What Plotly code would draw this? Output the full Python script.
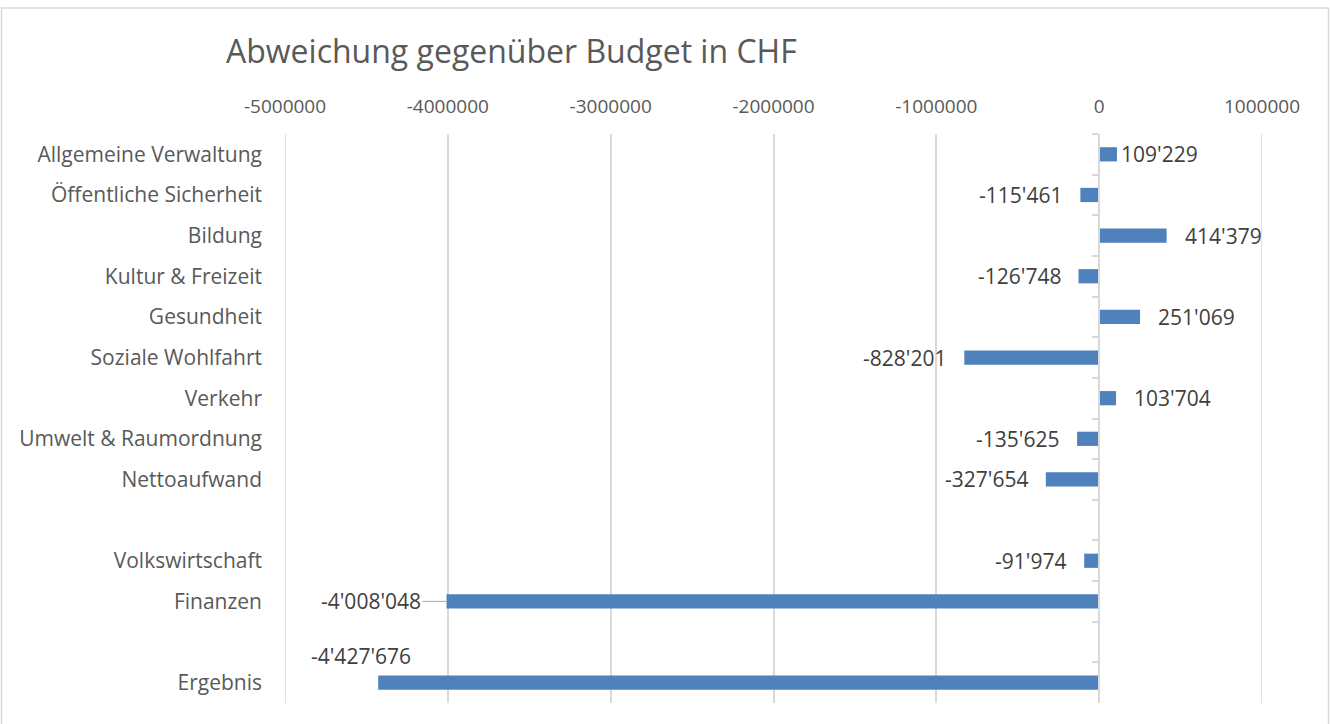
import plotly.graph_objects as go

# ---- data ----
categories = [
    "Allgemeine Verwaltung", "Öffentliche Sicherheit", "Bildung", "Kultur & Freizeit",
    "Gesundheit", "Soziale Wohlfahrt", "Verkehr", "Umwelt & Raumordnung", "Nettoaufwand",
    " ", "Volkswirtschaft", "Finanzen", "  ", "Ergebnis",
]
values = [
    109229, -115461, 414379, -126748, 251069, -828201, 103704, -135625, -327654,
    None, -91974, -4008048, None, -4427676,
]
x_ticks = [-5000000, -4000000, -3000000, -2000000, -1000000, 0, 1000000]
x_tick_labels = [str(v) for v in x_ticks]
title_text = "Abweichung gegenüber Budget in CHF"

# ---- style ----
FONT = "Open Sans"
BAR_COLOR = "#4f81bd"
GRID = "#d9d9d9"
TXT = "#595959"
LBL = "#404040"
W, H = 1330, 724
ML, MR, MT, MB = 285, 68, 134, 21
pw, ph = W - ML - MR, H - MT - MB
xmin, xmax = x_ticks[0], x_ticks[-1]
yrange = [len(categories) - 0.5, -0.5]

def fmt(v):
    return f"{v:,}".replace(",", "'")

fig = go.Figure()
fig.add_trace(go.Bar(
    x=values, y=categories, orientation="h",
    marker=dict(color=BAR_COLOR, line=dict(width=0)),
    width=0.35, hoverinfo="x+y",
))
# invisible trace to register categories on the zero axis
fig.add_trace(go.Scatter(
    x=[None] * len(categories), y=categories, yaxis="y2",
    mode="markers", marker=dict(opacity=0), hoverinfo="skip", showlegend=False,
))

# label offsets (style)
special = {
    "Allgemeine Verwaltung": dict(xshift=2),
    "Ergebnis": dict(xanchor="center", xshift=-17, yshift=27),
}
for c, v in zip(categories, values):
    if v is None:
        continue
    if c == "Finanzen":
        fig.add_annotation(x=v, y=c, text=fmt(v), showarrow=True, arrowhead=0,
                           arrowwidth=1, arrowcolor="#a6a6a6", ax=-24, ay=0,
                           xanchor="right", standoff=0,
                           font=dict(family=FONT, size=21, color=LBL))
        continue
    kw = dict(xanchor="left" if v > 0 else "right", xshift=16 if v > 0 else -16, yshift=0)
    kw.update(special.get(c, {}))
    fig.add_annotation(x=v, y=c, text=fmt(v), showarrow=False,
                       font=dict(family=FONT, size=21, color=LBL), **kw)

# gridlines at the range edges (plotly omits them)
for xv in (xmin, xmax):
    fig.add_shape(type="line", xref="x", yref="paper", x0=xv, x1=xv, y0=0, y1=1,
                  line=dict(color=GRID, width=1.5), layer="below")

# outer border
fig.add_shape(type="rect", xref="paper", yref="paper",
              x0=(1.5 - ML) / pw, x1=(1328.5 - ML) / pw,
              y0=(H - MB - 740) / ph, y1=(H - MB - 8) / ph,
              line=dict(color="#d9d9d9", width=1.5), layer="below")

fig.update_layout(
    width=W, height=H,
    margin=dict(l=ML, r=MR, t=MT, b=MB),
    paper_bgcolor="white", plot_bgcolor="white",
    showlegend=False,
    title=dict(text=title_text, font=dict(family=FONT, size=32, color=TXT),
               xref="container", x=226 / W, xanchor="left",
               yref="container", y=1 - 52 / H, yanchor="middle"),
    xaxis=dict(side="top", range=[xmin, xmax], tickvals=x_ticks, ticktext=x_tick_labels,
               showgrid=True, gridcolor=GRID, gridwidth=1.5, zeroline=False, showline=False,
               ticks="", ticklabelstandoff=16, automargin=False,
               tickfont=dict(family=FONT, size=19, color=TXT)),
    yaxis=dict(type="category", categoryorder="array", categoryarray=categories,
               range=yrange, showgrid=False, zeroline=False, showline=False,
               ticks="", ticklabelstandoff=22, automargin=False,
               tickfont=dict(family=FONT, size=21, color=TXT)),
    yaxis2=dict(type="category", categoryorder="array", categoryarray=categories,
                range=yrange, overlaying="y", anchor="free",
                position=(0 - xmin) / (xmax - xmin), side="left",
                showline=True, linecolor=GRID, linewidth=1.5,
                ticks="outside", ticklen=6, tickcolor=GRID, tickwidth=1.5,
                tickson="boundaries", showticklabels=False, showgrid=False, zeroline=False),
)

fig.write_html("out.html", config={"displayModeBar": False},
               post_script="document.body.style.margin='0';document.body.style.overflow='hidden';")
